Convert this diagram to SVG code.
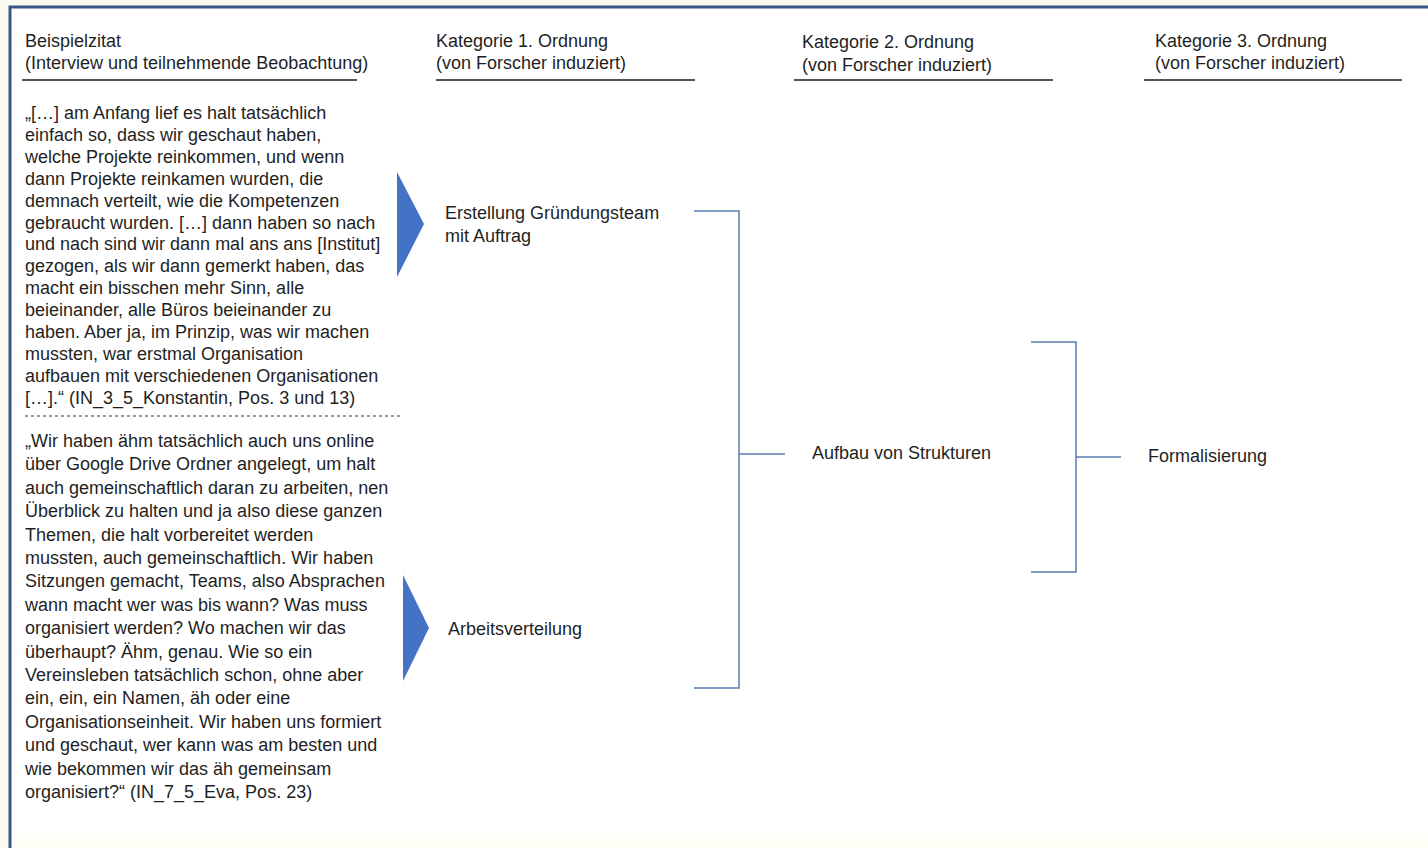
<svg xmlns="http://www.w3.org/2000/svg" width="1428" height="848" viewBox="0 0 1428 848">
  <style>
    text { font-family: "Liberation Sans", Arial, sans-serif; font-size: 18px; fill: #1f1f1f; }
    .rule { stroke: #1a1a1a; stroke-width: 1.5; fill: none; }
    .bracket { stroke: #5b7cb0; stroke-width: 1.5; fill: none; }
    .chevron { fill: #4472c4; }
  </style>

  <!-- page background and frame -->
  <rect x="0" y="0" width="1428" height="848" fill="#fbfbf2"/>
  <rect x="10" y="7" width="1418" height="841" fill="#ffffff"/>
  <rect x="11" y="834" width="1417" height="14" fill="#fffef6"/>
  <path d="M10,848 V7 H1428" fill="none" stroke="#3a5588" stroke-width="3"/>

  <!-- column headers -->
  <g id="header-quote">
    <text x="25" y="47">Beispielzitat</text>
    <text x="25" y="69">(Interview und teilnehmende Beobachtung)</text>
    <line class="rule" x1="22" y1="80" x2="357" y2="80"/>
  </g>
  <g id="header-cat1">
    <text x="436" y="47">Kategorie 1. Ordnung</text>
    <text x="436" y="69">(von Forscher induziert)</text>
    <line class="rule" x1="436" y1="80" x2="695" y2="80"/>
  </g>
  <g id="header-cat2">
    <text x="802" y="48">Kategorie 2. Ordnung</text>
    <text x="802" y="71">(von Forscher induziert)</text>
    <line class="rule" x1="794" y1="80" x2="1053" y2="80"/>
  </g>
  <g id="header-cat3">
    <text x="1155" y="47">Kategorie 3. Ordnung</text>
    <text x="1155" y="69">(von Forscher induziert)</text>
    <line class="rule" x1="1144" y1="80" x2="1402" y2="80"/>
  </g>

  <!-- first quotation -->
  <g id="quote-konstantin">
    <text x="25" y="119">
      <tspan x="25" dy="0">„[…] am Anfang lief es halt tatsächlich</tspan>
      <tspan x="25" dy="21.9">einfach so, dass wir geschaut haben,</tspan>
      <tspan x="25" dy="21.9">welche Projekte reinkommen, und wenn</tspan>
      <tspan x="25" dy="21.9">dann Projekte reinkamen wurden, die</tspan>
      <tspan x="25" dy="21.9">demnach verteilt, wie die Kompetenzen</tspan>
      <tspan x="25" dy="21.9">gebraucht wurden. […] dann haben so nach</tspan>
      <tspan x="25" dy="21.9">und nach sind wir dann mal ans ans [Institut]</tspan>
      <tspan x="25" dy="21.9">gezogen, als wir dann gemerkt haben, das</tspan>
      <tspan x="25" dy="21.9">macht ein bisschen mehr Sinn, alle</tspan>
      <tspan x="25" dy="21.9">beieinander, alle Büros beieinander zu</tspan>
      <tspan x="25" dy="21.9">haben. Aber ja, im Prinzip, was wir machen</tspan>
      <tspan x="25" dy="21.9">mussten, war erstmal Organisation</tspan>
      <tspan x="25" dy="21.9">aufbauen mit verschiedenen Organisationen</tspan>
      <tspan x="25" dy="21.9">[…].“ (IN_3_5_Konstantin, Pos. 3 und 13)</tspan>
    </text>
  </g>

  <line id="quote-divider" x1="25" y1="416" x2="403" y2="416" stroke="#333333" stroke-width="1" stroke-dasharray="3 3"/>

  <!-- second quotation -->
  <g id="quote-eva">
    <text x="25" y="447">
      <tspan x="25" dy="0">„Wir haben ähm tatsächlich auch uns online</tspan>
      <tspan x="25" dy="23.4">über Google Drive Ordner angelegt, um halt</tspan>
      <tspan x="25" dy="23.4">auch gemeinschaftlich daran zu arbeiten, nen</tspan>
      <tspan x="25" dy="23.4">Überblick zu halten und ja also diese ganzen</tspan>
      <tspan x="25" dy="23.4">Themen, die halt vorbereitet werden</tspan>
      <tspan x="25" dy="23.4">mussten, auch gemeinschaftlich. Wir haben</tspan>
      <tspan x="25" dy="23.4">Sitzungen gemacht, Teams, also Absprachen</tspan>
      <tspan x="25" dy="23.4">wann macht wer was bis wann? Was muss</tspan>
      <tspan x="25" dy="23.4">organisiert werden? Wo machen wir das</tspan>
      <tspan x="25" dy="23.4">überhaupt? Ähm, genau. Wie so ein</tspan>
      <tspan x="25" dy="23.4">Vereinsleben tatsächlich schon, ohne aber</tspan>
      <tspan x="25" dy="23.4">ein, ein, ein Namen, äh oder eine</tspan>
      <tspan x="25" dy="23.4">Organisationseinheit. Wir haben uns formiert</tspan>
      <tspan x="25" dy="23.4">und geschaut, wer kann was am besten und</tspan>
      <tspan x="25" dy="23.4">wie bekommen wir das äh gemeinsam</tspan>
      <tspan x="25" dy="23.4">organisiert?“ (IN_7_5_Eva, Pos. 23)</tspan>
    </text>
  </g>

  <!-- first-order categories -->
  <g id="cat1-gruendungsteam">
    <polygon class="chevron" points="397,172 424,224 397,277"/>
    <text x="445" y="219">Erstellung Gründungsteam</text>
    <text x="445" y="242">mit Auftrag</text>
  </g>
  <g id="cat1-arbeitsverteilung">
    <polygon class="chevron" points="403,575 429,628 403,681"/>
    <text x="448" y="635">Arbeitsverteilung</text>
  </g>

  <!-- second-order category -->
  <g id="cat2-strukturen">
    <text x="812" y="459">Aufbau von Strukturen</text>
  </g>

  <!-- third-order category -->
  <g id="cat3-formalisierung">
    <text x="1148" y="462">Formalisierung</text>
  </g>

  <!-- grouping brackets -->
  <g id="connectors">
    <path class="bracket" d="M694,211 H739 V688 H694"/>
    <path class="bracket" d="M739,454 H785"/>
    <path class="bracket" d="M1031,342 H1076 V572 H1031"/>
    <path class="bracket" d="M1076,457 H1121"/>
  </g>
</svg>
